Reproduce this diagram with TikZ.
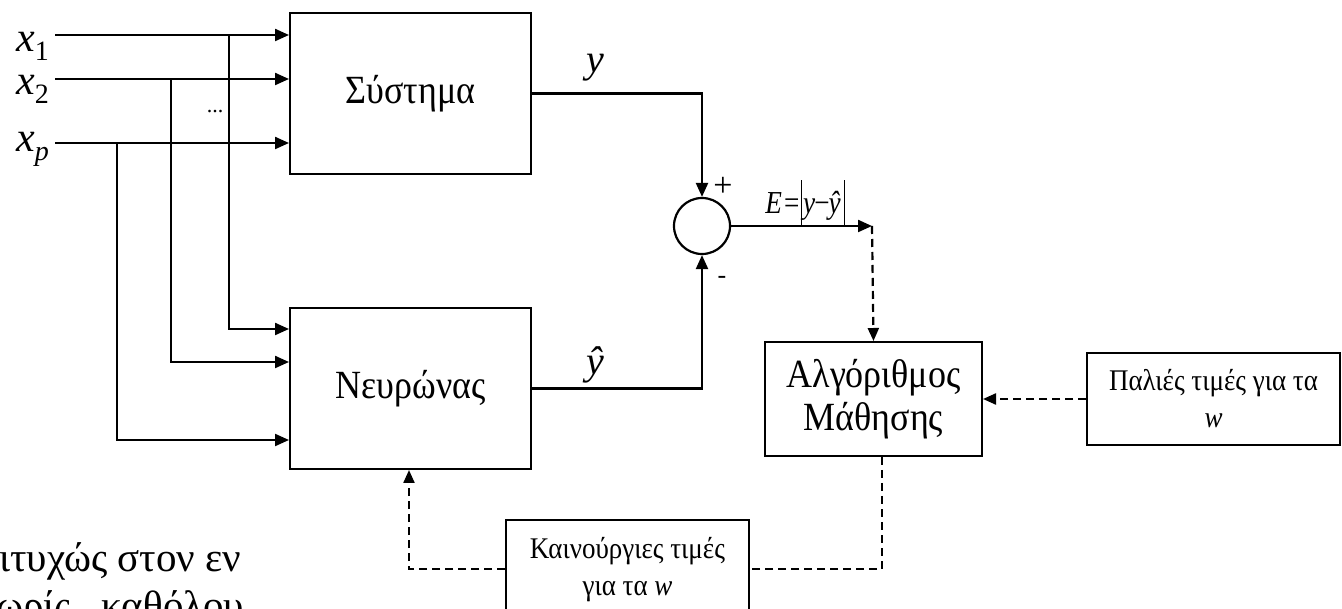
\documentclass[tikz,border=0pt]{standalone}
\usepackage{fontspec}
\setmainfont{Liberation Serif}
\newfontfamily\narrowserif[FakeStretch=0.9]{Liberation Serif}
\newfontfamily\tightserif[FakeStretch=0.85]{Liberation Serif}
\usetikzlibrary{arrows.meta}

\tikzset{
  block/.style={draw, line width=2pt, inner sep=0pt, anchor=north west},
  bigtxt/.style={font=\narrowserif\fontsize{40}{43}\selectfont, align=center},
  smalltxt/.style={font=\narrowserif\fontsize{30}{37}\selectfont, align=center},
  arr/.style={line width=2.2pt, -{Triangle[length=14pt,width=12pt]}},
  dline/.style={line width=2.2pt, dash pattern=on 8pt off 5pt},
  darr/.style={dline, -{Triangle[length=13pt,width=11pt]}},
  varlbl/.style={font=\fontsize{42}{42}\selectfont\itshape, inner sep=0pt, anchor=base east},
  sublbl/.style={font=\fontsize{40}{40}\selectfont\itshape, inner sep=0pt, anchor=base},
  prose/.style={font=\fontsize{41}{41}\selectfont, inner sep=0pt, anchor=base west}
}
\newcommand{\subidx}[1]{\raisebox{-9pt}{\fontsize{28}{28}\selectfont\upshape #1}}

\begin{document}
\begin{tikzpicture}[x=1pt,y=-1pt]
\useasboundingbox (0,0) rectangle (1342,609);

% blocks
\node[block, minimum width=241pt, minimum height=161pt] (sys) at (289,12) {};
\node[bigtxt] at (sys.center) {Σύστημα};
\node[block, minimum width=241pt, minimum height=161pt] (neu) at (289,307) {};
\node[bigtxt] at (neu.center) {Νευρώνας};
\node[block, minimum width=217pt, minimum height=114pt] (alg) at (764,341) {};
\node[bigtxt] at (alg.center) {Αλγόριθμος\\Μάθησης};
\node[block, minimum width=253pt, minimum height=92pt] (old) at (1086,352) {};
\node[smalltxt] at (old.center) {Παλιές τιμές για τα\\\textit{w}};
\node[block, minimum width=243pt, minimum height=100pt] (new) at (505,519) {};
\node[smalltxt] at (new.center) {Καινούργιες τιμές\\για τα \textit{w}};

% summing junction
\node[draw, circle, line width=2.2pt, minimum size=56pt, inner sep=0pt] (sum) at (702,226) {};

% input labels
\node[varlbl] (lx1) at (49,52) {x\subidx{1}};
\node[varlbl] (lx2) at (49,95) {x\subidx{2}};
\node[varlbl] (lxp) at (49,152) {x\subidx{\textit{p}}};
\node[font=\fontsize{22}{22}\selectfont] (dots) at (215,112) {...};

% input lines and taps
\coordinate (x1s) at (55,35);
\coordinate (x2s) at (55,79);
\coordinate (xps) at (55,143);
\coordinate (t1) at (229,35);
\coordinate (t2) at (171,79);
\coordinate (t3) at (117,143);
\coordinate (n1) at (289,329);
\coordinate (n2) at (289,362);
\coordinate (n3) at (289,440);
\draw[arr] (x1s) -- (x1s -| sys.west);
\draw[arr] (x2s) -- (x2s -| sys.west);
\draw[arr] (xps) -- (xps -| sys.west);
\draw[arr] (t1) |- (n1);
\draw[arr] (t2) |- (n2);
\draw[arr] (t3) |- (n3);

% outputs to the junction
\draw[arr] (sys.east) -| (sum.north);
\draw[arr] (neu.east) -| (sum.south);
\node[sublbl] (ly) at (595,73) {y};
\node[sublbl] (lyh) at (595,375) {ŷ};
\node[font=\fontsize{34}{34}\selectfont] (plus) at (723,187) {+};
\node[font=\fontsize{26}{26}\selectfont] (minus) at (722,280) {-};

% error signal
\coordinate (ee) at (872,226);
\draw[arr] (sum.east) -- (ee);
\node[font=\tightserif\fontsize{32}{32}\selectfont, inner sep=0pt, anchor=base] (err) at (805,214)
  {\textit{E}\kern2pt=\kern2pt\rule[-12pt]{0.8pt}{46pt}\kern1pt\textit{y}\kern-1pt−\kern-1pt\textit{ŷ}\kern3pt\rule[-12pt]{0.8pt}{46pt}};
\draw[darr] (ee) -- (alg.north);

% weight update loop
\draw[darr] (old.west) -- (alg.east |- old.west);
\coordinate (ab) at (882,569);
\coordinate (nb) at (409,569);
\draw[dline] (alg.south -| ab) -- (ab) -- (new.east |- ab);
\draw[darr] (new.west |- nb) -- (nb) -- (neu.south -| nb);

% running text at the lower left
\node[prose] (para1) at (-1,571) {ιτυχώς στον εν};
\node[prose] (para2) at (-4,619) {ωρίς , καθόλου};
\end{tikzpicture}
\end{document}
